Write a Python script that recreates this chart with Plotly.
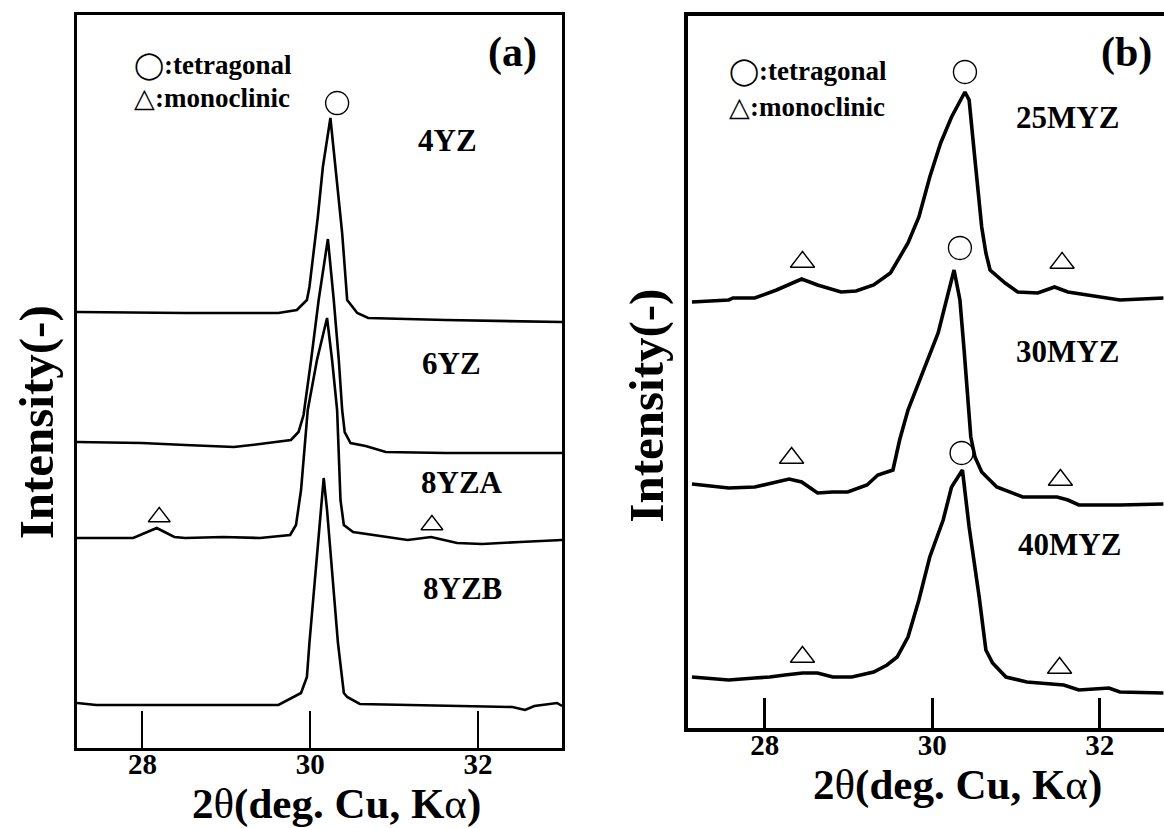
import plotly.graph_objects as go

FONT = "Liberation Serif, Times New Roman, serif"

# ---------------- Panel (a) data: 2theta (deg) vs. intensity (arb., offset) ----------------
a_4yz_x = [27.22, 28.51, 29.62, 29.84, 29.96, 29.99, 30.09, 30.15, 30.24, 30.30, 30.38, 30.44, 30.56, 30.69, 31.61, 33.00]
a_4yz_y = [436, 435, 435, 438, 448, 461, 531, 581, 630, 581, 515, 448, 435, 430, 428, 426]

a_6yz_x = [27.22, 27.99, 28.51, 29.09, 29.40, 29.77, 29.86, 29.92, 30.01, 30.10, 30.21, 30.28, 30.34, 30.38, 30.41, 30.48, 30.66, 30.90, 31.61, 33.00]
a_6yz_y = [306, 305, 303, 301, 304, 308, 316, 333, 388, 448, 509, 448, 388, 338, 316, 305, 302, 296, 295, 295]

a_8yza_x = [27.22, 27.89, 28.17, 28.38, 28.51, 28.96, 29.40, 29.76, 29.83, 29.89, 29.97, 30.08, 30.20, 30.26, 30.32, 30.36, 30.40, 30.51, 31.16, 31.44, 31.75, 32.05, 32.50, 33.00]
a_8yza_y = [210, 210, 220, 211, 210, 211, 210, 213, 223, 258, 338, 388, 430, 388, 338, 248, 223, 216, 208, 211, 205, 204, 206, 208]

a_8yzb_x = [27.22, 27.45, 28.51, 29.62, 29.89, 29.96, 29.99, 30.16, 30.20, 30.33, 30.40, 30.44, 30.59, 31.16, 32.41, 32.56, 32.67, 32.94, 33.00]
a_8yzb_y = [45, 43, 43, 43, 55, 71, 105, 270, 238, 105, 55, 51, 44, 43, 41, 38, 42, 45, 42]

a_tet_x = [30.32]
a_tet_y = [645]
a_mono_x = [28.20, 31.45]
a_mono_y = [231, 223]

a_labels = ["4YZ", "6YZ", "8YZA", "8YZB"]
a_label_x = [31.63, 31.68, 31.81, 31.81]
a_label_y = [608, 385, 266, 160]

# ---------------- Panel (b) data ----------------
b_25_x = [27.13, 27.57, 27.62, 27.88, 28.14, 28.44, 28.63, 28.91, 29.09, 29.30, 29.50, 29.71, 29.84, 29.97, 30.10, 30.23, 30.39, 30.44, 30.51, 30.59, 30.64, 30.69, 30.87, 31.02, 31.26, 31.46, 31.62, 32.01, 32.24, 32.76]
b_25_y = [426, 428, 430, 430, 438, 449, 443, 436, 437, 443, 455, 485, 511, 551, 585, 611, 636, 628, 568, 501, 475, 458, 445, 436, 435, 441, 436, 431, 428, 430]

b_30_x = [27.13, 27.57, 27.88, 28.14, 28.29, 28.44, 28.53, 28.63, 28.81, 28.99, 29.22, 29.35, 29.53, 29.61, 29.71, 30.07, 30.26, 30.33, 30.38, 30.44, 30.46, 30.51, 30.59, 30.77, 31.08, 31.49, 31.62, 31.75, 32.24, 32.76]
b_30_y = [244, 240, 241, 246, 249, 246, 241, 235, 236, 236, 243, 253, 258, 288, 318, 395, 458, 428, 378, 318, 291, 271, 256, 241, 231, 231, 228, 223, 223, 224]

b_40_x = [27.13, 27.57, 27.88, 28.06, 28.24, 28.45, 28.63, 28.81, 29.04, 29.30, 29.46, 29.58, 29.71, 29.84, 29.97, 30.13, 30.23, 30.36, 30.44, 30.56, 30.64, 30.72, 30.88, 31.13, 31.57, 31.75, 32.11, 32.24, 32.76]
b_40_y = [51, 48, 50, 51, 53, 55, 55, 51, 51, 56, 63, 71, 91, 128, 171, 208, 241, 258, 201, 131, 78, 65, 51, 46, 43, 38, 40, 36, 35]

b_tet_x = [30.39, 30.33, 30.35]
b_tet_y = [656, 480, 275]
b_mono_x = [28.45, 31.55, 28.32, 31.53, 28.45, 31.52]
b_mono_y = [466, 465, 270, 248, 71, 60]

b_labels = ["25MYZ", "30MYZ", "40MYZ"]
b_label_x = [31.62, 31.62, 31.64]
b_label_y = [610, 376, 183]

tick_vals = [28, 30, 32]
tick_text = ["<b>28</b>", "<b>30</b>", "<b>32</b>"]

fig = go.Figure()

for xs, ys in [(a_4yz_x, a_4yz_y), (a_6yz_x, a_6yz_y), (a_8yza_x, a_8yza_y), (a_8yzb_x, a_8yzb_y)]:
    fig.add_trace(go.Scatter(x=xs, y=ys, mode="lines", xaxis="x", yaxis="y",
                             line=dict(color="black", width=2.6), showlegend=False, hoverinfo="skip"))
for xs, ys in [(b_25_x, b_25_y), (b_30_x, b_30_y), (b_40_x, b_40_y)]:
    fig.add_trace(go.Scatter(x=xs, y=ys, mode="lines", xaxis="x2", yaxis="y2",
                             line=dict(color="black", width=3.6), showlegend=False, hoverinfo="skip"))

fig.add_trace(go.Scatter(x=a_tet_x, y=a_tet_y, mode="markers", xaxis="x", yaxis="y", showlegend=False,
                         marker=dict(symbol="circle-open", size=23, color="black", line=dict(width=1.4))))
fig.add_trace(go.Scatter(x=a_mono_x, y=a_mono_y, mode="markers", xaxis="x", yaxis="y", showlegend=False,
                         marker=dict(symbol="triangle-up-open", size=19, color="black", line=dict(width=1.4))))
fig.add_trace(go.Scatter(x=b_tet_x, y=b_tet_y, mode="markers", xaxis="x2", yaxis="y2", showlegend=False,
                         marker=dict(symbol="circle-open", size=23, color="black", line=dict(width=1.4))))
fig.add_trace(go.Scatter(x=b_mono_x, y=b_mono_y, mode="markers", xaxis="x2", yaxis="y2", showlegend=False,
                         marker=dict(symbol="triangle-up-open", size=21, color="black", line=dict(width=1.4))))

annotations = []
for t, x, y in zip(a_labels, a_label_x, a_label_y):
    annotations.append(dict(text="<b>%s</b>" % t, x=x, y=y, xref="x", yref="y", showarrow=False,
                            xanchor="center", yanchor="middle",
                            font=dict(family=FONT, size=31, color="black")))
for t, x, y in zip(b_labels, b_label_x, b_label_y):
    annotations.append(dict(text="<b>%s</b>" % t, x=x, y=y, xref="x2", yref="y2", showarrow=False,
                            xanchor="center", yanchor="middle",
                            font=dict(family=FONT, size=31, color="black")))

# legend texts
annotations += [
    dict(text="◯<b>:tetragonal</b>", x=27.87, y=683, xref="x", yref="y", xanchor="left", yanchor="middle",
         showarrow=False, font=dict(family=FONT, size=27, color="black")),
    dict(text="△<b>:monoclinic</b>", x=27.87, y=650, xref="x", yref="y", xanchor="left", yanchor="middle",
         showarrow=False, font=dict(family=FONT, size=27, color="black")),
    dict(text="<b>(a)</b>", x=32.41, y=696, xref="x", yref="y", xanchor="center", yanchor="middle",
         showarrow=False, font=dict(family=FONT, size=42, color="black")),
    dict(text="◯<b>:tetragonal</b>", x=27.55, y=656, xref="x2", yref="y2", xanchor="left", yanchor="middle",
         showarrow=False, font=dict(family=FONT, size=27, color="black")),
    dict(text="△<b>:monoclinic</b>", x=27.55, y=621, xref="x2", yref="y2", xanchor="left", yanchor="middle",
         showarrow=False, font=dict(family=FONT, size=27, color="black")),
    dict(text="<b>(b)</b>", x=32.32, y=675, xref="x2", yref="y2", xanchor="center", yanchor="middle",
         showarrow=False, font=dict(family=FONT, size=42, color="black")),
]

xtitle = '<b>2</b><span style="font-weight:normal">θ</span><b>(deg. Cu, K</b><span style="font-weight:normal">α</span><b>)</b>'
annotations += [
    dict(text=xtitle, x=0.2887, y=0.029, xref="paper", yref="paper", xanchor="center", yanchor="middle",
         showarrow=False, font=dict(family=FONT, size=43, color="black")),
    dict(text=xtitle, x=0.823, y=0.052, xref="paper", yref="paper", xanchor="center", yanchor="middle",
         showarrow=False, font=dict(family=FONT, size=43, color="black")),
    dict(text="<b>Intensity(-)</b>", x=0.031, y=0.49, xref="paper", yref="paper", xanchor="center",
         yanchor="middle", showarrow=False, textangle=-90, font=dict(family=FONT, size=49, color="black")),
    dict(text="<b>Intensity(-)</b>", x=0.5558, y=0.51, xref="paper", yref="paper", xanchor="center",
         yanchor="middle", showarrow=False, textangle=-90, font=dict(family=FONT, size=49, color="black")),
]

fig.update_layout(
    width=1164, height=828,
    margin=dict(l=0, r=0, t=0, b=0),
    paper_bgcolor="white", plot_bgcolor="white",
    showlegend=False,
    annotations=annotations,
    xaxis=dict(domain=[0.06615, 0.48282], range=[27.22, 33.0], anchor="y",
               showline=True, mirror=True, linecolor="black", linewidth=3,
               ticks="inside", ticklen=37, tickwidth=2, tickcolor="black",
               tickvals=tick_vals, ticktext=tick_text, showgrid=False, zeroline=False,
               ticklabelstandoff=-12,
               tickfont=dict(family=FONT, size=29, color="black")),
    yaxis=dict(domain=[0.09662, 0.98188], range=[0, 733], anchor="x",
               showline=True, mirror=True, linecolor="black", linewidth=3,
               showticklabels=False, ticks="", showgrid=False, zeroline=False),
    xaxis2=dict(domain=[0.59107, 1.0], range=[27.083, 32.767], anchor="y2",
                showline=True, mirror=True, linecolor="black", linewidth=4,
                ticks="inside", ticklen=30, tickwidth=3, tickcolor="black",
                tickvals=tick_vals, ticktext=tick_text, showgrid=False, zeroline=False,
                ticklabelstandoff=-12,
                tickfont=dict(family=FONT, size=29, color="black")),
    yaxis2=dict(domain=[0.12077, 0.98068], range=[0, 712], anchor="x2",
                showline=True, mirror=False, linecolor="black", linewidth=4,
                showticklabels=False, ticks="", showgrid=False, zeroline=False),
)

fig.write_html("out.html")
